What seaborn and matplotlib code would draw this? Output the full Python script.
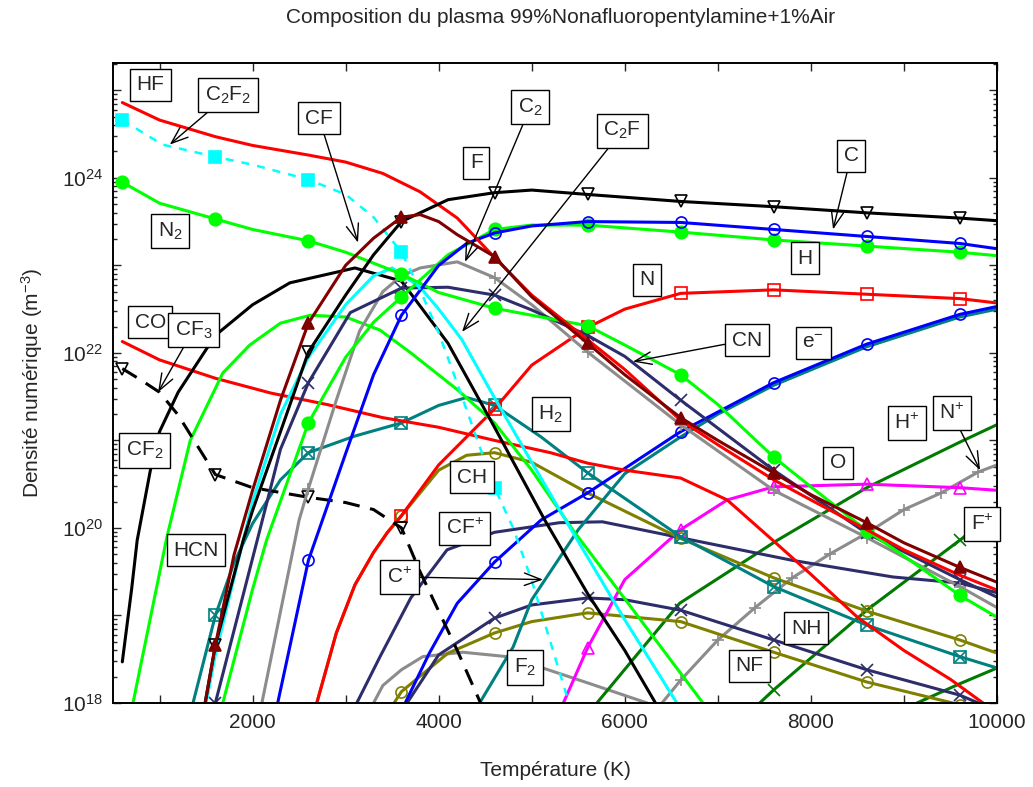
import numpy as np
import seaborn as sns
import matplotlib
matplotlib.use('Agg')
import matplotlib.pyplot as plt
from matplotlib.ticker import FixedLocator, FuncFormatter, LogLocator, NullFormatter

# temperature (K) and log10 of number density (m^-3)
hf_T = [600, 1000, 1600, 2000, 2600, 3000, 3400, 3800, 4200, 4600, 5000, 5600, 6000, 6600, 7000, 7600, 8000, 8600, 9000, 9600, 10000]
hf_e = [24.86, 24.66, 24.47, 24.37, 24.26, 24.18, 24.05, 23.84, 23.54, 23.09, 22.66, 22.15, 21.81, 21.23, 20.95, 20.55, 20.32, 19.98, 19.75, 19.46, 19.29]

c2f2_T = [600, 1030, 1600, 2000, 2600, 3000, 3300, 3600, 3800, 4000, 4200, 4400, 4600, 4800, 5000, 5200, 5400]
c2f2_e = [24.66, 24.38, 24.24, 24.15, 23.98, 23.81, 23.55, 23.15, 22.72, 22.23, 21.65, 21.05, 20.46, 20.0, 19.4, 18.7, 18.0]

n2_T = [600, 1000, 1600, 2000, 2600, 3000, 3600, 4000, 4600, 5000, 5600, 6000, 6600, 7000, 7600, 8000, 8600, 9000, 9600, 10000]
n2_e = [23.95, 23.71, 23.53, 23.41, 23.28, 23.15, 22.90, 22.69, 22.51, 22.43, 22.31, 22.09, 21.75, 21.41, 20.81, 20.47, 19.97, 19.68, 19.23, 18.98]

h_T = [1680, 2000, 2150, 2600, 3000, 3300, 3600, 4100, 4600, 5000, 5600, 6600, 7600, 8600, 9600, 10000]
h_e = [18.0, 19.3, 19.86, 21.2, 21.95, 22.35, 22.64, 23.12, 23.41, 23.46, 23.46, 23.38, 23.29, 23.22, 23.15, 23.11]

c_T = [2270, 2600, 3000, 3300, 3600, 4000, 4300, 4600, 5000, 5600, 6600, 7600, 8600, 9600, 10000]
c_e = [18.0, 19.63, 20.85, 21.75, 22.43, 23.0, 23.25, 23.37, 23.45, 23.50, 23.49, 23.41, 23.33, 23.25, 23.19]

f_T = [1490, 1600, 1900, 2000, 2300, 2600, 3000, 3300, 3600, 4100, 4600, 5000, 5600, 6600, 7600, 8600, 9600, 10000]
f_e = [18.0, 18.66, 19.86, 20.2, 21.1, 22.01, 22.66, 23.12, 23.50, 23.75, 23.83, 23.86, 23.81, 23.73, 23.67, 23.60, 23.54, 23.51]

cf_T = [1490, 1600, 1800, 2000, 2300, 2600, 3000, 3300, 3600, 3800, 4000, 4200, 4600, 5000, 5600, 6000, 6600, 7000, 7600, 8000, 8600, 9000, 9600, 10000]
cf_e = [18.0, 18.66, 19.69, 20.43, 21.46, 22.34, 23.0, 23.31, 23.55, 23.58, 23.50, 23.35, 23.10, 22.64, 22.11, 21.75, 21.26, 21.0, 20.63, 20.38, 20.06, 19.83, 19.55, 19.38]

c2f_T = [1500, 1600, 2000, 2300, 2600, 3000, 3300, 3500, 3800, 4000, 4250, 4550, 5000, 5380, 6000, 6560]
c2f_e = [18.0, 18.55, 20.3, 21.3, 21.95, 22.55, 22.88, 22.97, 22.75, 22.5, 22.15, 21.58, 20.75, 20.06, 18.95, 18.0]

cf2_T = [600, 700, 760, 900, 1000, 1200, 1600, 2000, 2400, 3100, 3600, 4100, 4600, 5140, 5600, 6000, 6330]
cf2_e = [18.47, 19.3, 19.86, 20.65, 21.1, 21.55, 22.2, 22.55, 22.8, 22.97, 22.82, 22.11, 21.15, 20.09, 19.25, 18.6, 18.0]

cf3_T = [600, 800, 1000, 1200, 1400, 1600, 2000, 2600, 3000, 3300, 3600, 3800, 4000, 4200, 4450]
cf3_e = [21.82, 21.69, 21.55, 21.29, 20.95, 20.61, 20.46, 20.35, 20.29, 20.21, 20.0, 19.5, 19.05, 18.6, 18.0]

co_T = [600, 1000, 1600, 2200, 2800, 3400, 4000, 4600, 5200, 5600, 6000, 6600, 7100, 7600, 8000, 8500, 9000, 9500, 9850]
co_e = [22.13, 21.92, 21.71, 21.54, 21.41, 21.26, 21.15, 21.0, 20.86, 20.74, 20.66, 20.57, 20.32, 19.85, 19.47, 18.98, 18.6, 18.27, 18.0]

n_T = [2690, 2900, 3100, 3300, 3450, 3600, 4000, 4600, 5000, 5600, 6000, 6600, 7600, 8600, 9600, 10000]
n_e = [18.0, 18.8, 19.35, 19.72, 19.95, 20.14, 20.72, 21.36, 21.86, 22.29, 22.5, 22.68, 22.72, 22.67, 22.62, 22.57]

ch_T = [2690, 2900, 3100, 3300, 3450, 3600, 4000, 4300, 4600, 5000, 5600, 6600, 7600, 8600, 9600, 10000]
ch_e = [18.0, 18.8, 19.35, 19.72, 19.95, 20.14, 20.66, 20.83, 20.86, 20.75, 20.4, 19.88, 19.43, 19.05, 18.72, 18.57]

h2_T = [1360, 1600, 1800, 2000, 2300, 2600, 3100, 3600, 4000, 4300, 4600, 5100, 5600, 6600, 7600, 8600, 9600, 10000]
h2_e = [18.0, 19.0, 19.6, 20.05, 20.55, 20.86, 21.05, 21.2, 21.4, 21.49, 21.4, 21.04, 20.63, 19.9, 19.33, 18.89, 18.53, 18.4]

cplus_T = [4440, 4800, 5000, 5500, 6000, 6600, 7000, 7600, 8600, 9600, 10000]
cplus_e = [18.0, 18.64, 19.18, 19.98, 20.62, 21.04, 21.3, 21.63, 22.07, 22.41, 22.5]

em_T = [3640, 3900, 4200, 4600, 5100, 5600, 6600, 7600, 8600, 9600, 10000]
em_e = [18.0, 18.57, 19.14, 19.61, 20.09, 20.4, 21.1, 21.66, 22.1, 22.44, 22.53]

o_T = [5340, 5600, 6000, 6600, 7100, 7600, 8600, 9600, 10000]
o_e = [18.0, 18.63, 19.41, 19.98, 20.32, 20.47, 20.5, 20.46, 20.43]

nh_T = [3660, 4000, 4600, 5000, 5600, 6000, 6600, 7600, 8600, 9600, 9800]
nh_e = [18.0, 18.55, 18.97, 19.12, 19.2, 19.18, 19.06, 18.72, 18.38, 18.09, 18.0]

nf_T = [3520, 3600, 4100, 4600, 5000, 5600, 6600, 7600, 8600, 9600]
nf_e = [18.0, 18.13, 18.57, 18.8, 18.93, 19.03, 18.93, 18.58, 18.24, 17.98]

cfp_T = [3120, 3370, 3700, 4090, 4600, 5300, 5760, 6730, 7800, 8880, 9600, 10000]
cfp_e = [18.0, 18.53, 19.2, 19.75, 19.95, 20.06, 20.07, 19.86, 19.63, 19.44, 19.37, 19.26]

cn_T = [1600, 2050, 2300, 2600, 3050, 3600, 4100, 4600, 5000, 5600, 6000, 6600, 7600, 8600, 9600, 10000]
cn_e = [18.0, 19.86, 20.9, 21.66, 22.46, 22.74, 22.75, 22.66, 22.49, 22.2, 21.96, 21.46, 20.66, 19.94, 19.41, 19.21]

c2_T = [2100, 2500, 2600, 2900, 3150, 3400, 3600, 3800, 4200, 4600, 5000, 5600, 6600, 7600, 8600, 9600, 10000]
c2_e = [18.0, 20.09, 20.45, 21.46, 22.25, 22.7, 22.88, 22.97, 23.04, 22.86, 22.55, 22.01, 21.18, 20.43, 19.89, 19.33, 19.09]

f2_T = [3300, 3400, 3600, 3830, 4260, 4730, 5090, 5600, 6240]
f2_e = [18.0, 18.2, 18.38, 18.53, 18.58, 18.53, 18.41, 18.23, 18.0]

hcn_T = [715, 1080, 1330, 1680, 1970, 2300, 2620, 3000, 3370, 3700, 4200, 4600, 5000, 5440, 6000, 6600, 6840]
hcn_e = [18.0, 19.9, 21.0, 21.77, 22.09, 22.34, 22.43, 22.41, 22.26, 22.0, 21.58, 21.2, 20.66, 19.98, 19.19, 18.34, 18.0]

hp_T = [5700, 6590, 7640, 8600, 9600, 10000]
hp_e = [18.0, 19.14, 19.86, 20.46, 20.98, 21.18]

fp_T = [7450, 7600, 8600, 9600, 10000]
fp_e = [18.0, 18.15, 19.06, 19.86, 20.15]

dg_T = [9140, 9600, 10000]
dg_e = [18.0, 18.22, 18.4]

np_T = [6400, 6600, 7000, 7400, 7800, 8200, 8600, 9000, 9400, 9800, 10000]
np_e = [18.0, 18.26, 18.72, 19.09, 19.43, 19.7, 19.94, 20.21, 20.4, 20.64, 20.72]

MARK_T = set(range(600, 10001, 1000))
NPLUS_MARK = set(range(6600, 10000, 400))

RED, CYAN, GREEN, BLUE = '#ff0000', '#00ffff', '#00ff00', '#0000ff'
MAROON, NAVY, GRAY, OLIVE = '#800000', '#2d2d6b', '#8c8c8c', '#808000'
TEAL, DGREEN, MAGENTA = '#008080', '#007a00', '#ff00ff'

sns.set_style('ticks')
plt.rcParams['font.family'] = ['Liberation Sans', 'DejaVu Sans']
plt.rcParams['mathtext.fontset'] = 'custom'
plt.rcParams['mathtext.rm'] = 'Liberation Sans'
plt.rcParams['mathtext.it'] = 'Liberation Sans:italic'

fig = plt.figure(figsize=(10.33, 7.87), dpi=100)
ax = fig.add_axes([113 / 1033, 1 - 703 / 787, 884 / 1033, 640 / 787])
ax.set_yscale('log')


def draw(T, e, color, lw=2.2, ls='-', marker=None, ms=8, filled=False, marks=MARK_T, z=2):
    y = 10.0 ** np.asarray(e)
    kw = dict(color=color, linewidth=lw, linestyle=ls, zorder=z)
    if marker:
        idx = [i for i, t in enumerate(T) if t in marks]
        kw.update(marker=marker, markevery=idx, markersize=ms,
                  markeredgecolor=color, markeredgewidth=1.2,
                  markerfacecolor=color if filled else 'none')
    sns.lineplot(x=T, y=y, ax=ax, estimator=None, sort=False, legend=False, **kw)


draw(f2_T, f2_e, GRAY)
draw(dg_T, dg_e, DGREEN)
draw(hp_T, hp_e, DGREEN)
draw(fp_T, fp_e, DGREEN, marker='x', ms=9)
draw(np_T, np_e, GRAY, marker='+', ms=9, marks=NPLUS_MARK)
draw(nf_T, nf_e, OLIVE, marker='o')
draw(nh_T, nh_e, NAVY, marker='x', ms=9)
draw(o_T, o_e, MAGENTA, marker='^')
draw(cfp_T, cfp_e, NAVY)
draw(ch_T, ch_e, OLIVE, marker='o')
draw(h2_T, h2_e, TEAL, marker='s')
draw(h2_T, h2_e, TEAL, ls='none', marker='x', ms=8)
draw(cplus_T, cplus_e, TEAL)
draw(em_T, em_e, BLUE, marker='o')
draw(co_T, co_e, RED)
draw(n_T, n_e, RED, marker='s')
draw(hcn_T, hcn_e, GREEN)
draw(cf3_T, cf3_e, 'black', ls=(0, (5.5, 3.5)), marker='v')
draw(cf2_T, cf2_e, 'black')
draw(c2_T, c2_e, GRAY, marker='+', ms=9)
draw(cn_T, cn_e, NAVY, marker='x', ms=9)
draw(c2f_T, c2f_e, CYAN)
draw(h_T, h_e, GREEN, marker='o', ms=9, filled=True)
draw(n2_T, n2_e, GREEN, marker='o', ms=9, filled=True)
draw(c_T, c_e, BLUE, marker='o')
draw(c2f2_T, c2f2_e, CYAN, lw=1.8, ls=(0, (3.2, 3.2)), marker='s', filled=True)
draw(hf_T, hf_e, RED)
draw(f_T, f_e, 'black', marker='v')
draw(cf_T, cf_e, MAROON, marker='^', filled=True)

ax.set_xlim(500, 10000)
ax.set_ylim(1e18, 2.05e25)

ax.xaxis.set_major_locator(FixedLocator(np.arange(1000, 10001, 1000)))
ax.xaxis.set_major_formatter(FuncFormatter(lambda v, p: f'{int(v)}' if int(v) % 2000 == 0 else ''))
ax.yaxis.set_major_locator(FixedLocator([10.0 ** k for k in range(18, 26)]))
ax.yaxis.set_major_formatter(FuncFormatter(
    lambda v, p: f'$10^{{{int(round(np.log10(v)))}}}$' if int(round(np.log10(v))) % 2 == 0 else ''))
ax.yaxis.set_minor_locator(LogLocator(base=10, subs=np.arange(2, 10), numticks=50))
ax.yaxis.set_minor_formatter(NullFormatter())
ax.tick_params(which='both', direction='in', top=True, right=True, labelsize=15, width=1)
ax.tick_params(which='major', length=6, pad=7)
ax.tick_params(which='minor', length=3)
for s in ax.spines.values():
    s.set_linewidth(1.4)
    s.set_color('black')

ax.set_xlabel('Température (K)', fontsize=15)
ax.xaxis.set_label_coords(0.5, -0.09)
ax.set_ylabel('Densité numérique (m$^{-3}$)', fontsize=15)
ax.yaxis.set_label_coords(-0.077, 0.5)
fig.text(0.543, 0.978, 'Composition du plasma 99%Nonafluoropentylamine+1%Air',
         ha='center', va='center', fontsize=15)

box = dict(boxstyle='square,pad=0.32', fc='white', ec='black', lw=1)
arrow = dict(arrowstyle='->,head_length=0.8,head_width=0.3', color='black', lw=1,
             shrinkA=0, shrinkB=0)

# labels: (text, axes-fraction position, arrow tip in data coords or None)
labels = [
    ('HF', (0.042, 0.966), None),
    ('C$_2$F$_2$', (0.130, 0.950), (1110, 10 ** 24.38)),
    ('CF', (0.233, 0.914), (3133, 10 ** 23.26)),
    ('C$_2$', (0.472, 0.931), (4283, 10 ** 23.04)),
    ('F', (0.411, 0.844), None),
    ('C$_2$F', (0.576, 0.894), (4251, 10 ** 22.24)),
    ('C', (0.835, 0.855), (8238, 10 ** 23.41)),
    ('N$_2$', (0.0645, 0.7375), None),
    ('H', (0.783, 0.695), None),
    ('N', (0.604, 0.661), None),
    ('CO', (0.042, 0.595), None),
    ('CF$_3$', (0.091, 0.583), (984, 10 ** 21.55)),
    ('CN', (0.717, 0.567), (6088, 10 ** 21.90)),
    ('e$^{-}$', (0.792, 0.5625), None),
    ('CF$_2$', (0.036, 0.395), None),
    ('H$_2$', (0.495, 0.4516), None),
    ('H$^{+}$', (0.898, 0.4375), None),
    ('N$^{+}$', (0.949, 0.453), (9818, 10 ** 20.66)),
    ('O', (0.820, 0.375), None),
    ('CH', (0.406, 0.353), None),
    ('CF$^{+}$', (0.398, 0.273), None),
    ('F$^{+}$', (0.983, 0.280), None),
    ('C$^{+}$', (0.324, 0.197), (5121, 10 ** 19.41)),
    ('HCN', (0.094, 0.239), None),
    ('NH', (0.784, 0.117), None),
    ('NF', (0.720, 0.058), None),
    ('F$_2$', (0.466, 0.055), None),
]
for txt, pos, tip in labels:
    if tip is None:
        ax.text(pos[0], pos[1], txt, transform=ax.transAxes, ha='center', va='center',
                fontsize=15, bbox=box, zorder=10)
    else:
        ax.annotate(txt, xy=tip, xycoords='data', xytext=pos, textcoords='axes fraction',
                    ha='center', va='center', fontsize=15, bbox=box,
                    arrowprops=arrow, zorder=10)

fig.savefig('out.png', dpi=100)
